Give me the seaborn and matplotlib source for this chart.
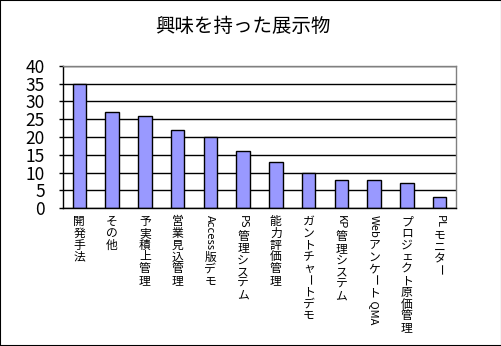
import matplotlib
matplotlib.use("Agg")
import matplotlib.pyplot as plt
import matplotlib.transforms as mtransforms
import seaborn as sns
import pandas as pd
import re

categories = ["開発手法", "その他", "予実積上管理", "営業見込管理", "Access版デモ",
              "PS管理システム", "能力評価管理", "ガントチャートデモ", "KP管理システム",
              "Webアンケート QMA", "プロジェクト原価管理", "PLモニター"]
values = [35, 27, 26, 22, 20, 16, 13, 10, 8, 8, 7, 3]
yticks = [0, 5, 10, 15, 20, 25, 30, 35, 40]
title = "興味を持った展示物"

sns.set_style("white")
plt.rcParams['font.family'] = ['Noto Sans CJK JP', 'DejaVu Sans']

df = pd.DataFrame({"cat": categories, "val": values})

fig = plt.figure(figsize=(5.02, 3.46), dpi=100)
ax = fig.add_axes([63/502, 1-208/346, (456-63)/502, (208-66)/346])

sns.barplot(data=df, x="cat", y="val", color="#9999FF", saturation=1,
            edgecolor="black", linewidth=1, width=0.41, ax=ax)

ax.set_xlim(-0.5, len(categories) - 0.5)
ax.set_ylim(0, 40)
ax.set_yticks(yticks)
ax.set_yticklabels([str(t) for t in yticks], fontsize=12.5, color="black")
ax.yaxis.grid(True, color="black", linewidth=1)
ax.set_axisbelow(True)
ax.set_xlabel("")
ax.set_ylabel("")
ax.set_xticks(range(len(categories)))
ax.set_xticklabels([])
ax.tick_params(axis="x", which="major", length=0)
ax.set_xticks([i + 0.5 for i in range(len(categories) - 1)], minor=True)
ax.tick_params(axis="x", which="minor", direction="in", length=4, width=1, color="black")
ax.tick_params(axis="y", which="major", direction="out", length=3, width=1,
               color="black", pad=10, left=True)
for s in ["top", "right"]:
    ax.spines[s].set_color("#808080")
    ax.spines[s].set_linewidth(1)
for s in ["left", "bottom"]:
    ax.spines[s].set_color("black")
    ax.spines[s].set_linewidth(1)

fig.text(243/502, 1-26/346, title, ha="center", va="center", fontsize=14, color="black")

# vertical (tategaki) tick labels
renderer = fig.canvas.get_renderer()
base = mtransforms.blended_transform_factory(ax.transData, ax.transAxes)
fs = 8.5
for i, lab in enumerate(categories):
    pieces = re.findall(r"[A-Za-z0-9 ]+|.", lab)
    off_px = 7.0
    for p in pieces:
        tr = base + mtransforms.ScaledTranslation(0, -off_px/100, fig.dpi_scale_trans)
        if re.fullmatch(r"[A-Za-z0-9 ]+", p):
            t = ax.text(i, 0, p, transform=tr, rotation=-90, rotation_mode="anchor",
                        ha="left", va="center", fontsize=fs-0.5, color="black",
                        clip_on=False)
            bb = t.get_window_extent(renderer)
            off_px += bb.height + 1
        elif p == "ー":
            t = ax.text(i, 0, p, transform=tr, rotation=-90,
                        ha="center", va="top", fontsize=fs, color="black", clip_on=False)
            off_px += fs * 100/72 * 1.0
        else:
            t = ax.text(i, 0, p, transform=tr, ha="center", va="top",
                        fontsize=fs, color="black", clip_on=False)
            off_px += fs * 100/72 * 1.0

# figure border
fig.patches.append(plt.Rectangle((0, 0), 1, 1, transform=fig.transFigure,
                                 fill=False, edgecolor="black", linewidth=1.5))

fig.savefig("out.png", dpi=100)
